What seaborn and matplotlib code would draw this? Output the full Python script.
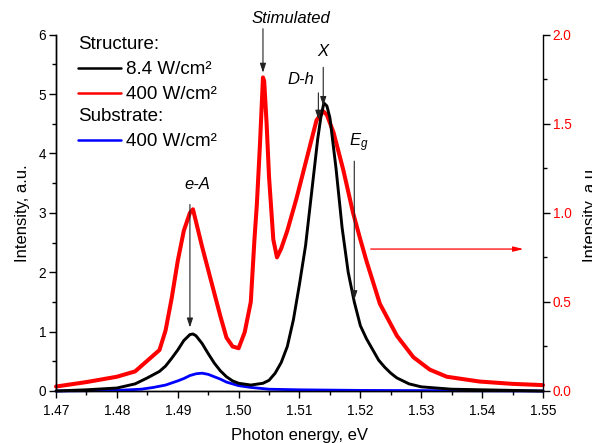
import matplotlib
matplotlib.use("Agg")
import matplotlib.pyplot as plt
from matplotlib.lines import Line2D
from matplotlib.ticker import MultipleLocator, FormatStrFormatter
import seaborn as sns
import pandas as pd

# ---------------- data ----------------
# Structure, 8.4 W/cm2 (left axis)
black_E = [1.470, 1.475, 1.480, 1.483, 1.485, 1.487, 1.488, 1.489, 1.490, 1.491,
           1.492, 1.4925, 1.493, 1.494, 1.495, 1.496, 1.497, 1.498, 1.499, 1.500,
           1.502, 1.504, 1.505, 1.506, 1.507, 1.508, 1.509, 1.510, 1.511, 1.512,
           1.513, 1.5135, 1.514, 1.5145, 1.515, 1.516, 1.517, 1.518, 1.519, 1.520,
           1.521, 1.522, 1.523, 1.524, 1.525, 1.526, 1.528, 1.530, 1.535, 1.540,
           1.545, 1.550]
black_I = [0.00, 0.02, 0.05, 0.12, 0.22, 0.33, 0.42, 0.55, 0.69, 0.85,
           0.95, 0.96, 0.93, 0.80, 0.63, 0.47, 0.34, 0.24, 0.17, 0.13,
           0.10, 0.13, 0.18, 0.30, 0.48, 0.75, 1.20, 1.80, 2.45, 3.35,
           4.25, 4.60, 4.85, 4.80, 4.60, 3.75, 2.75, 2.00, 1.50, 1.10,
           0.88, 0.70, 0.52, 0.40, 0.30, 0.22, 0.12, 0.07, 0.03, 0.02,
           0.01, 0.00]

# Structure, 400 W/cm2 (right axis)
red_E = [1.470, 1.475, 1.480, 1.483, 1.485, 1.487, 1.488, 1.489, 1.490, 1.491,
         1.492, 1.4925, 1.493, 1.494, 1.495, 1.496, 1.497, 1.498, 1.499, 1.500,
         1.501, 1.502, 1.5026, 1.5030, 1.5035, 1.5040, 1.5042, 1.5046, 1.5050, 1.5057,
         1.5063, 1.5070, 1.5080, 1.5095, 1.5110, 1.5128, 1.5139, 1.5145, 1.5156, 1.5172,
         1.5188, 1.5200, 1.5210, 1.5232, 1.5260, 1.5287, 1.5314, 1.5342, 1.5396, 1.5450,
         1.5500]
red_I = [0.025, 0.05, 0.08, 0.11, 0.17, 0.23, 0.34, 0.52, 0.73, 0.90,
         1.00, 1.02, 0.95, 0.81, 0.68, 0.55, 0.42, 0.30, 0.25, 0.24,
         0.33, 0.50, 0.85, 1.05, 1.38, 1.76, 1.74, 1.50, 1.20, 0.85,
         0.75, 0.80, 0.90, 1.08, 1.28, 1.52, 1.57, 1.55, 1.45, 1.24,
         1.00, 0.85, 0.73, 0.49, 0.31, 0.19, 0.12, 0.08, 0.053, 0.04,
         0.033]

# Substrate, 400 W/cm2 (left axis)
blue_E = [1.470, 1.480, 1.484, 1.486, 1.488, 1.490, 1.491, 1.492, 1.493, 1.494,
          1.495, 1.496, 1.497, 1.498, 1.499, 1.500, 1.502, 1.505, 1.510, 1.520,
          1.550]
blue_I = [0.00, 0.01, 0.03, 0.06, 0.10, 0.17, 0.21, 0.26, 0.29, 0.30,
          0.28, 0.24, 0.20, 0.15, 0.12, 0.09, 0.06, 0.03, 0.02, 0.01,
          0.00]

legend_titles = ["Structure:", "Substrate:"]
legend_labels = ["8.4 W/cm\u00b2", "400 W/cm\u00b2", "400 W/cm\u00b2"]

# ---------------- style ----------------
sns.set_style("ticks")
plt.rcParams["font.family"] = ["Liberation Sans", "DejaVu Sans"]
plt.rcParams["mathtext.fontset"] = "custom"
plt.rcParams["mathtext.rm"] = "Liberation Sans"
plt.rcParams["mathtext.it"] = "Liberation Sans:italic"
plt.rcParams["text.color"] = "black"
plt.rcParams["axes.labelcolor"] = "black"

fig = plt.figure(figsize=(5.92, 4.43), dpi=100)
ax = fig.add_axes([0.0946, 0.1174, 0.8226, 0.8043])
ax2 = ax.twinx()

df_black = pd.DataFrame({"E": black_E, "I": black_I})
df_red = pd.DataFrame({"E": red_E, "I": red_I})
df_blue = pd.DataFrame({"E": blue_E, "I": blue_I})

sns.lineplot(data=df_red, x="E", y="I", ax=ax2, color="#ff0000", lw=2.9,
             sort=False, estimator=None, clip_on=False)
sns.lineplot(data=df_blue, x="E", y="I", ax=ax, color="#0000ff", lw=2.0,
             sort=False, estimator=None, clip_on=False)
sns.lineplot(data=df_black, x="E", y="I", ax=ax, color="black", lw=2.1,
             sort=False, estimator=None, clip_on=False)

ax.set_zorder(ax2.get_zorder() + 1)
ax.patch.set_visible(False)

ax.set_xlim(1.47, 1.55)
ax.set_ylim(0, 6)
ax2.set_ylim(0, 2)

ax.xaxis.set_major_locator(MultipleLocator(0.01))
ax.xaxis.set_minor_locator(MultipleLocator(0.005))
ax.xaxis.set_major_formatter(FormatStrFormatter("%.2f"))
ax.yaxis.set_major_locator(MultipleLocator(1))
ax.yaxis.set_minor_locator(MultipleLocator(0.5))
ax.yaxis.set_major_formatter(FormatStrFormatter("%d"))
ax2.yaxis.set_major_locator(MultipleLocator(0.5))
ax2.yaxis.set_minor_locator(MultipleLocator(0.25))
ax2.yaxis.set_major_formatter(FormatStrFormatter("%.1f"))

for a in (ax, ax2):
    a.spines["top"].set_visible(False)
    for s in a.spines.values():
        s.set_linewidth(1.0)
        s.set_color("black")
ax.spines["right"].set_visible(False)

ax.tick_params(axis="both", which="major", direction="out", length=5, width=1,
               labelsize=9.8, colors="black", pad=2)
ax.tick_params(axis="x", which="major", pad=4.2)
ax.tick_params(axis="both", which="minor", direction="out", length=3, width=1,
               colors="black")
ax.tick_params(axis="x", top=False, which="both")
ax.tick_params(axis="y", right=False, which="both")
ax2.tick_params(axis="y", which="major", direction="out", length=5, width=1,
                labelsize=9.8, labelcolor="#ff0000", color="black", pad=2)
ax2.tick_params(axis="y", which="minor", direction="out", length=3, width=1, color="black")

ax.set_xlabel("Photon energy, eV", fontsize=12, labelpad=7.6)
ax.set_ylabel("Intensity, a.u.", fontsize=12, labelpad=6)
ax2.set_ylabel("Intensity, a.u.", fontsize=12, labelpad=8.4)

# ---------------- annotations ----------------
arr = dict(arrowstyle="-|>,head_width=0.18,head_length=0.55", color="#222222",
           lw=0.8, shrinkA=0, shrinkB=0)
tkw = dict(fontsize=12, style="italic", ha="center", va="center")

ax.text(1.4932, 3.47, "e-A", **tkw)
ax.annotate("", xy=(1.4920, 1.07), xytext=(1.4920, 3.14), arrowprops=arr)

ax.text(1.5086, 6.27, "Stimulated", clip_on=False, **tkw)
ax.annotate("", xy=(1.5040, 5.36), xytext=(1.5040, 6.10), arrowprops=arr,
            annotation_clip=False)

ax.text(1.5139, 5.72, "X", **tkw)
ax.annotate("", xy=(1.5139, 4.80), xytext=(1.5139, 5.45), arrowprops=arr)

ax.text(1.5102, 5.24, "D-h", **tkw)
ax.annotate("", xy=(1.5131, 4.57), xytext=(1.5131, 5.02), arrowprops=arr)

ax.text(1.5198, 4.18, "$E_g$", fontsize=12, ha="center", va="center")
ax.annotate("", xy=(1.5190, 1.53), xytext=(1.5190, 3.87), arrowprops=arr)

ax.annotate("", xy=(1.5468, 2.39), xytext=(1.5217, 2.39),
            arrowprops=dict(arrowstyle="-|>,head_width=0.15,head_length=0.6",
                            color="#ff0000", lw=0.9, shrinkA=0, shrinkB=0))

# ---------------- legend ----------------
h_black = Line2D([], [], color="black", lw=1.8)
h_red = Line2D([], [], color="#ff0000", lw=1.8)
h_blue = Line2D([], [], color="#0000ff", lw=1.8)

lkw = dict(frameon=False, fontsize=13.5, title_fontsize=13.5, alignment="left",
           handlelength=2.25, handletextpad=0.3, borderpad=0, labelspacing=0.42,
           borderaxespad=0, loc="upper left")
leg1 = ax.legend([h_black, h_red], legend_labels[:2], title=legend_titles[0],
                 bbox_to_anchor=(0.046, 0.996), **lkw)
ax.add_artist(leg1)
leg2 = ax.legend([h_blue], legend_labels[2:], title=legend_titles[1],
                 bbox_to_anchor=(0.046, 0.794), **lkw)

fig.savefig("out.png", dpi=100)
